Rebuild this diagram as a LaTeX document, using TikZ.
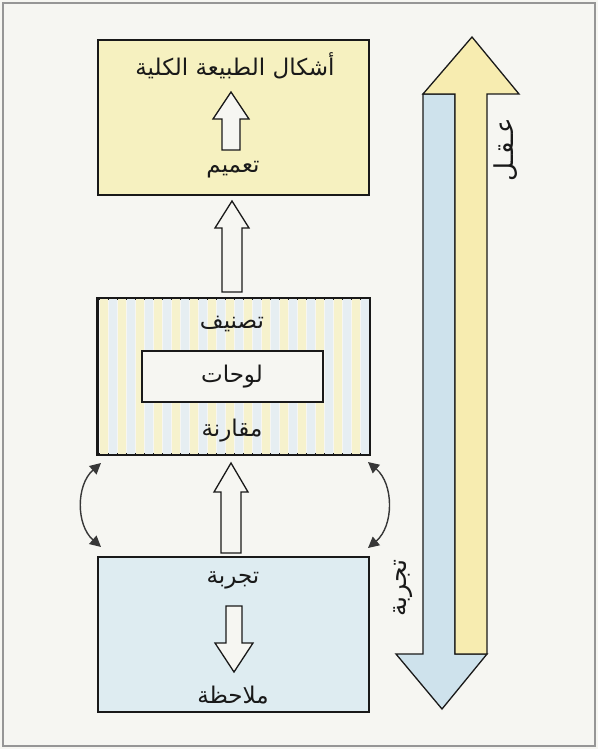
\documentclass[tikz,border=0pt]{standalone}
\usepackage{fontspec}
\newfontfamily\arabicfont[Script=Arabic]{DejaVu Sans}
\TeXXeTstate=1
\usetikzlibrary{arrows.meta}
\definecolor{bgc}{RGB}{246,246,242}
\definecolor{framec}{RGB}{150,150,150}
\definecolor{yelc}{RGB}{246,241,192}
\definecolor{yelbig}{RGB}{247,236,176}
\definecolor{bluec}{RGB}{222,236,241}
\definecolor{bluebig}{RGB}{206,226,236}
\definecolor{stripey}{RGB}{246,242,205}
\definecolor{stripeb}{RGB}{230,238,242}
\definecolor{linec}{RGB}{25,25,25}
\definecolor{curvec}{RGB}{55,55,55}
\tikzset{
  box/.style={draw=linec, line width=1.8pt, minimum width=271pt, minimum height=155pt, inner sep=0pt},
  innerbox/.style={draw=linec, line width=1.5pt, fill=bgc, minimum width=181pt, minimum height=51pt, inner sep=0pt},
  lbl/.style={font=\arabicfont\fontsize{23}{26}\selectfont, text=linec, inner sep=0pt},
  hollow/.style={draw=linec, line width=1.3pt, fill=bgc, line join=miter},
  bigarrow/.style={draw=linec, line width=1.3pt, line join=miter},
  curvy/.style={draw=curvec, line width=1.4pt, {Triangle[length=11pt,width=11pt]}-{Triangle[length=11pt,width=11pt]}},
}
\begin{document}
\begin{tikzpicture}[x=1pt,y=-1pt]
\useasboundingbox (0,0) rectangle (598,749);
\fill[bgc] (0,0) rectangle (598,749);
\draw[framec, line width=1.2pt] (3,3) rectangle (595,746);

% boxes
\node[box, fill=yelc] (top) at (233.5,117.5) {};
\node[box, fill=bgc] (mid) at (233.5,376.5) {};
\begin{scope}
  \clip (98,299) rectangle (369,454);
  \foreach \i in {0,...,15} {
    \fill[stripey] (100+\i*18,299) rectangle (108+\i*18,454);
    \fill[stripeb] (109+\i*18,299) rectangle (117+\i*18,454);
  }
\end{scope}
\draw[linec, line width=1.8pt] (mid.south west) rectangle (mid.north east);
\node[box, fill=bluec] (bot) at (233.5,634.5) {};
\node[innerbox] (panel) at (232.5,376.5) {};

% texts
\node[lbl] (forms) at (235,66) {\beginR أشكال الطبيعة الكلية\endR};
\node[lbl] (gen) at (233,170) {\beginR تعميم\endR};
\node[lbl] (cls) at (232,324) {\beginR تصنيف\endR};
\node[lbl] (pan) at (232,377) {\beginR لوحات\endR};
\node[lbl] (cmp) at (232,431) {\beginR مقارنة\endR};
\node[lbl] (exp) at (233,580) {\beginR تجربة\endR};
\node[lbl] (obs) at (233,695) {\beginR ملاحظة\endR};

% hollow arrows
\draw[hollow] (222,150) -- (222,119) -- (213,119) -- (231,92) -- (249,119) -- (240,119) -- (240,150) -- cycle;
\draw[hollow] (222,292) -- (222,228) -- (215,228) -- (232,201) -- (249,228) -- (242,228) -- (242,292) -- cycle;
\draw[hollow] (221,553) -- (221,492) -- (214,492) -- (231,463) -- (248,492) -- (241,492) -- (241,553) -- cycle;
\draw[hollow] (226,606) -- (226,643) -- (215,643) -- (234,672) -- (253,643) -- (242,643) -- (242,606) -- cycle;

% curved double arrows
\coordinate (lt) at (101,463);
\coordinate (lb) at (101,547);
\coordinate (rt) at (368,462);
\coordinate (rb) at (368,548);
\draw[curvy] (lt) .. controls (76,485) and (76,525) .. (lb);
\draw[curvy] (rt) .. controls (394,484) and (394,526) .. (rb);

% big arrows
\draw[bigarrow, fill=bluebig] (423,94) -- (455,94) -- (455,654) -- (487,654) -- (442,709) -- (396,654) -- (423,654) -- cycle;
\draw[bigarrow, fill=yelbig] (455,654) -- (487,654) -- (487,94) -- (519,94) -- (472,37) -- (423,94) -- (455,94) -- cycle;

\node[lbl, rotate=90, font=\arabicfont\fontsize{26}{28}\selectfont] (mind) at (506,150) {\beginR عـقـل\endR};
\node[lbl, rotate=90, font=\arabicfont\fontsize{25}{28}\selectfont] (expv) at (403,588) {\beginR تجربة\endR};
\end{tikzpicture}
\end{document}
